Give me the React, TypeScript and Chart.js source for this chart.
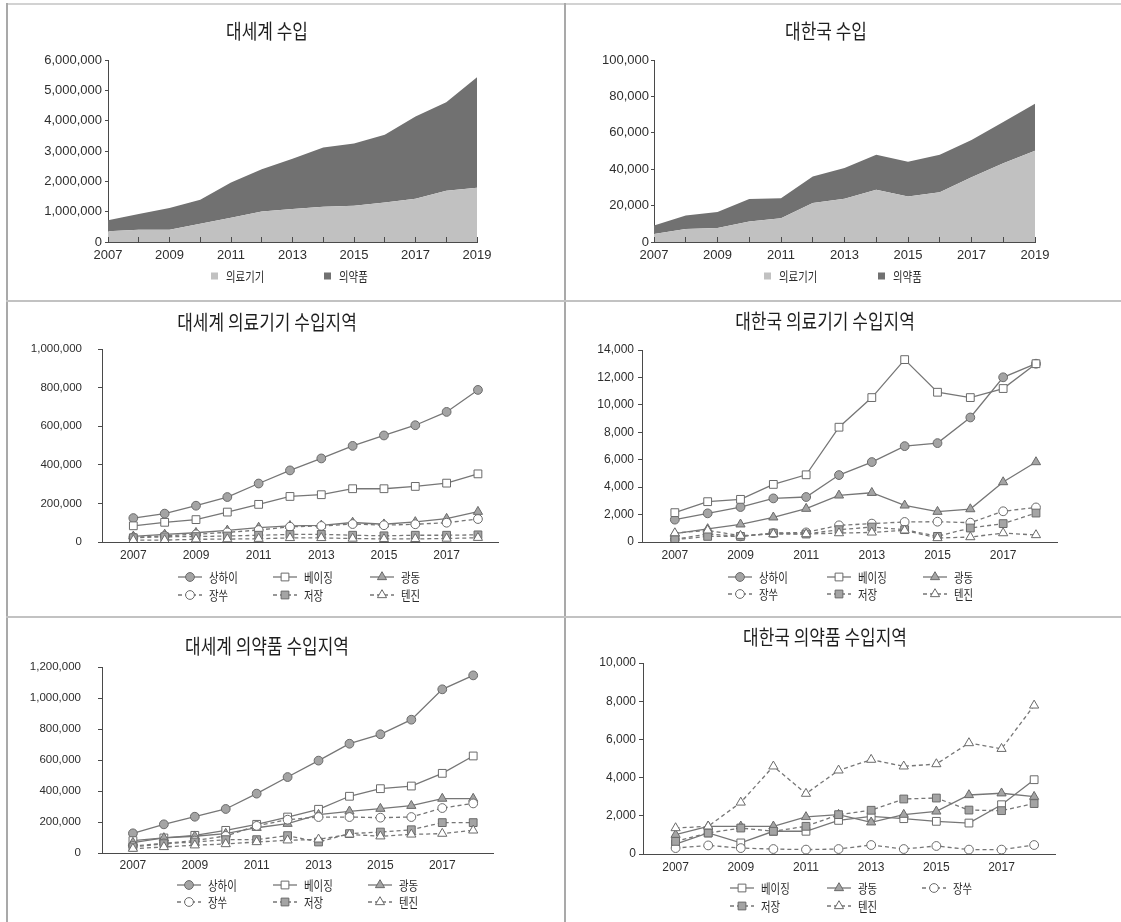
import { useEffect, useRef } from 'react';
import { Chart, registerables } from 'chart.js';

Chart.register(...registerables);

// ---- 연도별 수입액 (대세계 / 대한국) ----
const importYears = [2007, 2008, 2009, 2010, 2011, 2012, 2013, 2014, 2015, 2016, 2017, 2018, 2019];
const worldDeviceImports = [351000, 405000, 405000, 603000, 800000, 1009000, 1086000, 1163000, 1196000, 1305000, 1426000, 1689000, 1788000];
const worldPharmaImports = [362000, 516000, 714000, 790000, 1163000, 1393000, 1656000, 1952000, 2051000, 2227000, 2709000, 2918000, 3641000];
const koreaDeviceImports = [4400, 7100, 7700, 11300, 13000, 21400, 23800, 28700, 25000, 27400, 35600, 43300, 50100];
const koreaPharmaImports = [4700, 7500, 8800, 12300, 11100, 14600, 16800, 19200, 19100, 20500, 20500, 22700, 25800];

// ---- 지역별 수입액 ----
const regionYears = [2007, 2008, 2009, 2010, 2011, 2012, 2013, 2014, 2015, 2016, 2017, 2018];
const regionTickYears = [2007, 2009, 2011, 2013, 2015, 2017];

// 대세계 의료기기
const worldDevShanghai = [124000, 147000, 188000, 233000, 303000, 371000, 433000, 498000, 552000, 605000, 674000, 788000];
const worldDevBeijing = [84000, 102000, 116000, 155000, 195000, 236000, 245000, 276000, 276000, 288000, 305000, 353000];
const worldDevGuangdong = [29000, 39000, 48000, 60000, 75000, 84000, 86000, 101000, 92000, 104000, 121000, 157000];
const worldDevJiangsu = [24000, 32000, 40000, 50000, 62000, 79000, 83000, 93000, 87000, 92000, 100000, 119000];
const worldDevZhejiang = [22000, 27000, 28000, 31000, 35000, 39000, 40000, 35000, 32000, 35000, 35000, 37000];
const worldDevTianjin = [10000, 10000, 14000, 15000, 17000, 21000, 21000, 18000, 16000, 16000, 18000, 22000];

// 대한국 의료기기
const koreaDevShanghai = [1630, 2090, 2550, 3180, 3280, 4880, 5830, 6990, 7210, 9080, 12010, 13000];
const koreaDevBeijing = [2140, 2940, 3110, 4200, 4900, 8370, 10530, 13300, 10920, 10530, 11190, 13000];
const koreaDevGuangdong = [610, 950, 1290, 1800, 2430, 3400, 3590, 2670, 2210, 2400, 4370, 5830];
const koreaDevJiangsu = [200, 580, 410, 650, 700, 1215, 1340, 1460, 1480, 1410, 2240, 2520];
const koreaDevZhejiang = [170, 410, 410, 650, 580, 900, 1090, 900, 410, 1020, 1340, 2110];
const koreaDevTianjin = [650, 850, 460, 580, 580, 650, 700, 850, 290, 360, 650, 510];

// 대세계 의약품
const worldPharmShanghai = [127000, 185000, 234000, 284000, 383000, 490000, 596000, 705000, 766000, 860000, 1056000, 1146000];
const worldPharmBeijing = [80000, 97000, 114000, 146000, 185000, 232000, 282000, 366000, 415000, 432000, 514000, 626000];
const worldPharmGuangdong = [67000, 97000, 108000, 125000, 163000, 189000, 247000, 269000, 286000, 305000, 351000, 351000];
const worldPharmJiangsu = [45000, 62000, 80000, 110000, 175000, 215000, 232000, 232000, 228000, 232000, 290000, 320000];
const worldPharmZhejiang = [39000, 60000, 71000, 86000, 86000, 112000, 71000, 125000, 135000, 150000, 196000, 196000];
const worldPharmTianjin = [28000, 39000, 50000, 58000, 71000, 82000, 88000, 120000, 108000, 120000, 125000, 146000];

// 대한국 의약품
const koreaPharmBeijing = [520, 1100, 580, 1190, 1190, 1760, 1970, 1850, 1710, 1620, 2580, 3890];
const koreaPharmGuangdong = [1010, 1450, 1450, 1450, 1940, 2060, 1660, 2060, 2230, 3090, 3180, 3000];
const koreaPharmJiangsu = [310, 450, 310, 260, 230, 260, 470, 260, 420, 230, 230, 470];
const koreaPharmZhejiang = [660, 1100, 1360, 1190, 1450, 2060, 2290, 2880, 2930, 2300, 2270, 2640];
const koreaPharmTianjin = [1360, 1450, 2700, 4590, 3160, 4380, 4940, 4590, 4710, 5810, 5510, 7780];

// ---- 스타일 ----
const NUM_FONT = '"Liberation Sans", Arial, sans-serif';
const KR_FONT = '"Noto Sans CJK KR", "Noto Sans", sans-serif';
const AXIS = '#4a4a4a';
const TICK = '#2e2e2e';
const DEVICE_FILL = '#c1c1c1';
const PHARMA_FILL = '#717171';
const LINE = '#767676';
const MARK_FILL = '#a4a4a4';
const MARK_EDGE = '#6a6a6a';

const seriesLook: Record<string, { pointStyle: string; radius: number; filled: boolean; dashed: boolean }> = {
  상하이: { pointStyle: 'circle', radius: 4.4, filled: true, dashed: false },
  베이징: { pointStyle: 'rect', radius: 5.5, filled: false, dashed: false },
  광동: { pointStyle: 'triangle', radius: 5.3, filled: true, dashed: false },
  장쑤: { pointStyle: 'circle', radius: 4.4, filled: false, dashed: true },
  저장: { pointStyle: 'rect', radius: 5.5, filled: true, dashed: true },
  텐진: { pointStyle: 'triangle', radius: 5.3, filled: false, dashed: true },
};

type Cell = { x: number; y: number; w: number; h: number };
type Rect = { left: number; right: number; top: number; bottom: number };
type LegendSpot = { ds: number; x: number; y: number };

const fmt = (v: any) => Math.round(Number(v)).toLocaleString('en-US');

function drawSqueezed(ctx: CanvasRenderingContext2D, text: string, x: number, y: number, font: string, sx: number, align: CanvasTextAlign, color: string) {
  ctx.save();
  ctx.translate(x, y);
  ctx.scale(sx, 1);
  ctx.font = font;
  ctx.textAlign = align;
  ctx.textBaseline = 'middle';
  ctx.fillStyle = color;
  ctx.fillText(text, 0, 0);
  ctx.restore();
}

function drawMarker(ctx: CanvasRenderingContext2D, style: string, x: number, y: number, r: number, fill: string, edge: string) {
  ctx.save();
  ctx.setLineDash([]);
  ctx.beginPath();
  if (style === 'circle') {
    ctx.arc(x, y, r, 0, Math.PI * 2);
  } else if (style === 'rect') {
    const s = Math.SQRT1_2 * r;
    ctx.rect(x - s, y - s, 2 * s, 2 * s);
  } else {
    let a = 0;
    ctx.moveTo(x + Math.sin(a) * r, y - Math.cos(a) * r);
    a += (Math.PI * 2) / 3;
    ctx.lineTo(x + Math.sin(a) * r, y - Math.cos(a) * r);
    a += (Math.PI * 2) / 3;
    ctx.lineTo(x + Math.sin(a) * r, y - Math.cos(a) * r);
  }
  ctx.closePath();
  ctx.fillStyle = fill;
  ctx.fill();
  ctx.lineWidth = 1;
  ctx.strokeStyle = edge;
  ctx.stroke();
  ctx.restore();
}

// 제목과 범례를 캔버스 위에 그리는 플러그인
function panelDecor(cell: Cell, title: string, tx: number, ty: number, kind: 'box' | 'line', spots: LegendSpot[]) {
  return {
    id: 'panelDecor',
    afterDraw(chart: any) {
      const ctx: CanvasRenderingContext2D = chart.ctx;
      drawSqueezed(ctx, title, tx - cell.x, ty - cell.y, `20px ${KR_FONT}`, 0.85, 'center', '#1e1e1e');
      for (const s of spots) {
        const ds = chart.data.datasets[s.ds];
        const x = s.x - cell.x;
        const y = s.y - cell.y;
        if (kind === 'box') {
          ctx.fillStyle = ds.backgroundColor;
          ctx.fillRect(x, y - 3.5, 7, 7);
          drawSqueezed(ctx, ds.label, x + 15, y, `13px ${KR_FONT}`, 0.8, 'left', '#2a2a2a');
        } else {
          ctx.save();
          ctx.strokeStyle = ds.borderColor;
          ctx.lineWidth = ds.borderWidth;
          ctx.setLineDash(ds.borderDash || []);
          ctx.beginPath();
          ctx.moveTo(x, y);
          ctx.lineTo(x + 24, y);
          ctx.stroke();
          ctx.restore();
          drawMarker(ctx, ds.pointStyle, x + 12, y, ds.pointRadius, ds.pointBackgroundColor, ds.pointBorderColor);
          drawSqueezed(ctx, ds.label, x + 31, y, `13px ${KR_FONT}`, 0.8, 'left', '#2a2a2a');
        }
      }
    },
  };
}

type AreaSpec = {
  title: string;
  titleAt: [number, number];
  device: number[];
  pharma: number[];
  max: number;
  step: number;
  plot: Rect;
  yPad: number;
  legend: LegendSpot[];
};

function areaConfig(cell: Cell, p: AreaSpec): any {
  const xH = 20;
  return {
    type: 'line',
    data: {
      datasets: [
        {
          label: '의료기기',
          data: importYears.map((x, i) => ({ x, y: p.device[i] })),
          fill: 'origin',
          backgroundColor: DEVICE_FILL,
          borderWidth: 0,
          pointRadius: 0,
          tension: 0,
        },
        {
          label: '의약품',
          data: importYears.map((x, i) => ({ x, y: p.pharma[i] })),
          fill: '-1',
          backgroundColor: PHARMA_FILL,
          borderWidth: 0,
          pointRadius: 0,
          tension: 0,
        },
      ],
    },
    options: {
      responsive: false,
      animation: false,
      events: [],
      layout: {
        padding: {
          top: p.plot.top - cell.y,
          right: cell.x + cell.w - p.plot.right,
          bottom: cell.y + cell.h - p.plot.bottom - xH,
          left: 0,
        },
      },
      plugins: { legend: { display: false }, title: { display: false }, tooltip: { enabled: false } },
      scales: {
        x: {
          type: 'linear',
          min: importYears[0],
          max: importYears[importYears.length - 1],
          grid: { drawOnChartArea: false, tickLength: -5, color: AXIS, z: 1 },
          border: { color: AXIS, z: 1 },
          ticks: {
            stepSize: 1,
            autoSkip: false,
            maxRotation: 0,
            padding: 11,
            color: TICK,
            font: { family: NUM_FONT, size: 13 },
            callback: (v: any) => (Number(v) % 2 === 1 ? String(v) : ''),
          },
          afterFit: (s: any) => {
            s.height = xH;
          },
        },
        y: {
          stacked: true,
          min: 0,
          max: p.max,
          grid: { drawOnChartArea: false, tickLength: 3, color: AXIS },
          border: { color: AXIS },
          ticks: { stepSize: p.step, padding: p.yPad, color: TICK, font: { family: NUM_FONT, size: 13 }, callback: fmt },
          afterFit: (s: any) => {
            s.width = p.plot.left - cell.x;
          },
        },
      },
    },
    plugins: [panelDecor(cell, p.title, p.titleAt[0], p.titleAt[1], 'box', p.legend)],
  };
}

type LineSpec = {
  title: string;
  titleAt: [number, number];
  series: [string, number[]][];
  max: number;
  step: number;
  plot: Rect;
  yFont: number;
  yPad: number;
  xPad: number;
  legend: LegendSpot[];
};

function regionDataset(label: string, values: number[], index: number) {
  const look = seriesLook[label];
  return {
    label,
    data: regionYears.map((x, i) => ({ x, y: values[i] })),
    // 뒤쪽 계열이 위에 그려지도록
    order: -index,
    borderColor: LINE,
    borderWidth: 1.3,
    borderDash: look.dashed ? [4, 3] : [],
    pointStyle: look.pointStyle,
    pointRadius: look.radius,
    pointBackgroundColor: look.filled ? MARK_FILL : '#ffffff',
    pointBorderColor: MARK_EDGE,
    pointBorderWidth: 1,
    tension: 0,
    fill: false,
  };
}

function lineConfig(cell: Cell, p: LineSpec): any {
  const xH = 24;
  return {
    type: 'line',
    data: { datasets: p.series.map(([label, values], i) => regionDataset(label, values, i)) },
    options: {
      responsive: false,
      animation: false,
      events: [],
      layout: {
        padding: {
          top: p.plot.top - cell.y,
          right: cell.x + cell.w - p.plot.right,
          bottom: cell.y + cell.h - p.plot.bottom - xH,
          left: 0,
        },
      },
      plugins: { legend: { display: false }, title: { display: false }, tooltip: { enabled: false } },
      scales: {
        x: {
          type: 'linear',
          min: 2006,
          max: 2018.64,
          grid: { drawOnChartArea: false, drawTicks: false },
          border: { color: AXIS },
          afterBuildTicks: (s: any) => {
            s.ticks = regionTickYears.map((value) => ({ value }));
          },
          ticks: {
            autoSkip: false,
            maxRotation: 0,
            padding: p.xPad,
            color: TICK,
            font: { family: NUM_FONT, size: 12 },
            callback: (v: any) => String(v),
          },
          afterFit: (s: any) => {
            s.height = xH;
          },
        },
        y: {
          min: 0,
          max: p.max,
          grid: { drawOnChartArea: false, tickLength: 4, color: AXIS },
          border: { color: AXIS },
          ticks: { stepSize: p.step, padding: p.yPad, color: TICK, font: { family: NUM_FONT, size: p.yFont }, callback: fmt },
          afterFit: (s: any) => {
            s.width = p.plot.left - cell.x;
          },
        },
      },
    },
    plugins: [panelDecor(cell, p.title, p.titleAt[0], p.titleAt[1], 'line', p.legend)],
  };
}

function ChartPanel({ cell, config }: { cell: Cell; config: (c: Cell) => any }) {
  const ref = useRef<HTMLCanvasElement | null>(null);
  useEffect(() => {
    if (!ref.current) return;
    const chart = new Chart(ref.current, config(cell));
    return () => chart.destroy();
  }, []);
  return (
    <canvas
      ref={ref}
      width={cell.w}
      height={cell.h}
      style={{ position: 'absolute', left: cell.x, top: cell.y, width: cell.w, height: cell.h }}
    />
  );
}

const colL = { x: 8, w: 556 };
const colR = { x: 566, w: 555 };
const row1 = { y: 5, h: 295 };
const row2 = { y: 302, h: 314 };
const row3 = { y: 618, h: 304 };
const cellOf = (c: { x: number; w: number }, r: { y: number; h: number }): Cell => ({ x: c.x, w: c.w, y: r.y, h: r.h });

const panels: { cell: Cell; config: (c: Cell) => any }[] = [
  {
    cell: cellOf(colL, row1),
    config: (c) =>
      areaConfig(c, {
        title: '대세계 수입',
        titleAt: [267, 31],
        device: worldDeviceImports,
        pharma: worldPharmaImports,
        max: 6000000,
        step: 1000000,
        plot: { left: 108, right: 477, top: 60, bottom: 242 },
        yPad: 3,
        legend: [
          { ds: 0, x: 211, y: 276 },
          { ds: 1, x: 324, y: 276 },
        ],
      }),
  },
  {
    cell: cellOf(colR, row1),
    config: (c) =>
      areaConfig(c, {
        title: '대한국 수입',
        titleAt: [826, 31],
        device: koreaDeviceImports,
        pharma: koreaPharmaImports,
        max: 100000,
        step: 20000,
        plot: { left: 654, right: 1035, top: 60, bottom: 242 },
        yPad: 2,
        legend: [
          { ds: 0, x: 764, y: 276 },
          { ds: 1, x: 878, y: 276 },
        ],
      }),
  },
  {
    cell: cellOf(colL, row2),
    config: (c) =>
      lineConfig(c, {
        title: '대세계 의료기기 수입지역',
        titleAt: [267, 322.5],
        series: [
          ['상하이', worldDevShanghai],
          ['베이징', worldDevBeijing],
          ['광동', worldDevGuangdong],
          ['장쑤', worldDevJiangsu],
          ['저장', worldDevZhejiang],
          ['텐진', worldDevTianjin],
        ],
        max: 1000000,
        step: 200000,
        plot: { left: 102, right: 498, top: 349, bottom: 542 },
        yFont: 11.5,
        yPad: 16,
        xPad: 6,
        legend: [
          { ds: 0, x: 178, y: 577 },
          { ds: 1, x: 273, y: 577 },
          { ds: 2, x: 370, y: 577 },
          { ds: 3, x: 178, y: 595 },
          { ds: 4, x: 273, y: 595 },
          { ds: 5, x: 370, y: 595 },
        ],
      }),
  },
  {
    cell: cellOf(colR, row2),
    config: (c) =>
      lineConfig(c, {
        title: '대한국 의료기기 수입지역',
        titleAt: [825, 321],
        series: [
          ['상하이', koreaDevShanghai],
          ['베이징', koreaDevBeijing],
          ['광동', koreaDevGuangdong],
          ['장쑤', koreaDevJiangsu],
          ['저장', koreaDevZhejiang],
          ['텐진', koreaDevTianjin],
        ],
        max: 14000,
        step: 2000,
        plot: { left: 642, right: 1057, top: 350, bottom: 542 },
        yFont: 12,
        yPad: 4,
        xPad: 6,
        legend: [
          { ds: 0, x: 728, y: 577 },
          { ds: 1, x: 827, y: 577 },
          { ds: 2, x: 923, y: 577 },
          { ds: 3, x: 728, y: 594 },
          { ds: 4, x: 827, y: 594 },
          { ds: 5, x: 923, y: 594 },
        ],
      }),
  },
  {
    cell: cellOf(colL, row3),
    config: (c) =>
      lineConfig(c, {
        title: '대세계 의약품 수입지역',
        titleAt: [267, 646],
        series: [
          ['상하이', worldPharmShanghai],
          ['베이징', worldPharmBeijing],
          ['광동', worldPharmGuangdong],
          ['장쑤', worldPharmJiangsu],
          ['저장', worldPharmZhejiang],
          ['텐진', worldPharmTianjin],
        ],
        max: 1200000,
        step: 200000,
        plot: { left: 102, right: 493, top: 667, bottom: 853 },
        yFont: 11.5,
        yPad: 17,
        xPad: 5,
        legend: [
          { ds: 0, x: 177, y: 885 },
          { ds: 1, x: 273, y: 885 },
          { ds: 2, x: 368, y: 885 },
          { ds: 3, x: 177, y: 902 },
          { ds: 4, x: 273, y: 902 },
          { ds: 5, x: 368, y: 902 },
        ],
      }),
  },
  {
    cell: cellOf(colR, row3),
    config: (c) =>
      lineConfig(c, {
        title: '대한국 의약품 수입지역',
        titleAt: [825, 637],
        series: [
          ['베이징', koreaPharmBeijing],
          ['광동', koreaPharmGuangdong],
          ['장쑤', koreaPharmJiangsu],
          ['저장', koreaPharmZhejiang],
          ['텐진', koreaPharmTianjin],
        ],
        max: 10000,
        step: 2000,
        plot: { left: 643, right: 1055, top: 663, bottom: 854 },
        yFont: 12,
        yPad: 3,
        xPad: 6,
        legend: [
          { ds: 0, x: 730, y: 888 },
          { ds: 1, x: 827, y: 888 },
          { ds: 2, x: 922, y: 888 },
          { ds: 3, x: 730, y: 906 },
          { ds: 4, x: 827, y: 906 },
        ],
      }),
  },
];

const rule = (style: Record<string, any>) => <div style={{ position: 'absolute', ...style }} />;

export default function App() {
  return (
    <div style={{ position: 'absolute', left: 0, top: 0, width: 1121, height: 922, background: '#ffffff', overflow: 'hidden' }}>
      {rule({ left: 6, top: 3, width: 1115, height: 2, background: '#d2d2d2' })}
      {rule({ left: 6, top: 3, width: 2, height: 919, background: '#a9a9a9' })}
      {rule({ left: 564, top: 3, width: 2, height: 919, background: '#a9a9a9' })}
      {rule({ left: 6, top: 300, width: 1115, height: 2, background: '#c2c2c2' })}
      {rule({ left: 6, top: 616, width: 1115, height: 2, background: '#c2c2c2' })}
      {panels.map((p, i) => (
        <ChartPanel key={i} cell={p.cell} config={p.config} />
      ))}
    </div>
  );
}
